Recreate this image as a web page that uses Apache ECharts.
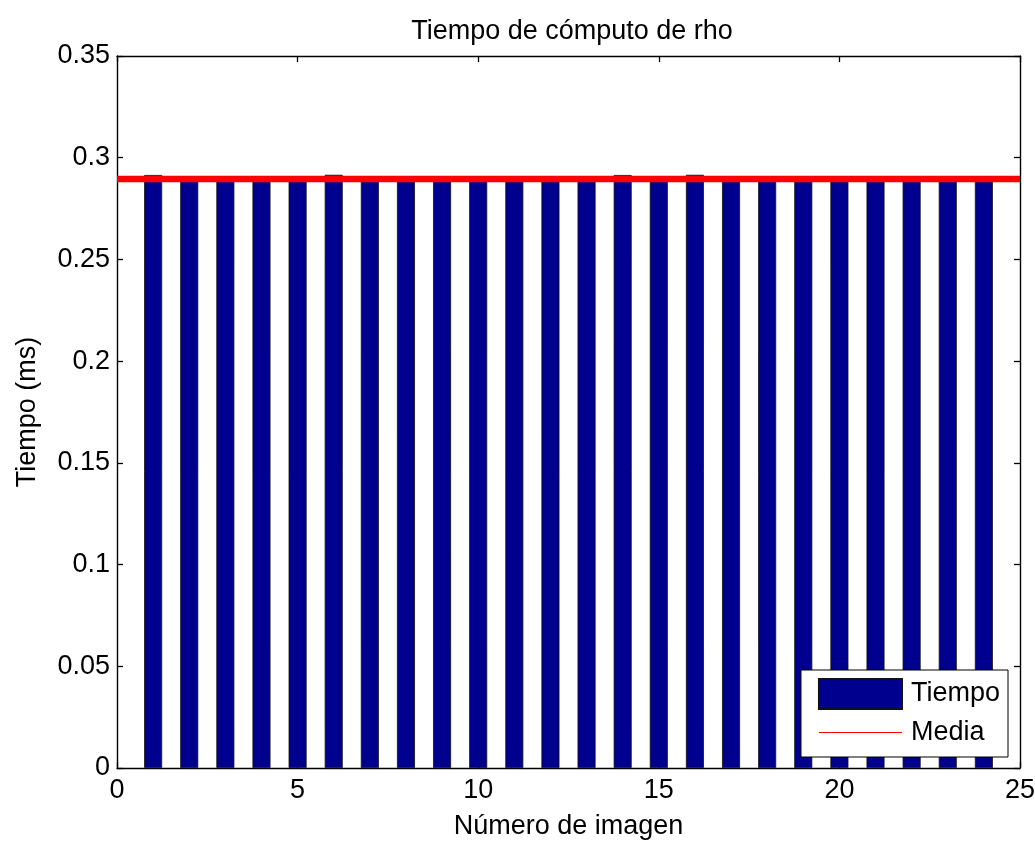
<!DOCTYPE html>
<html>
<head>
<meta charset="utf-8">
<title>Tiempo de cómputo de rho</title>
<script src="https://cdn.jsdelivr.net/npm/echarts@6/dist/echarts.min.js"></script>
<style>
  html, body { margin: 0; padding: 0; background: #fff; }
  #chart { width: 1035px; height: 841px; }
</style>
</head>
<body>
<div id="chart"></div>
<script>
// Image numbers (1..24) and compute time of rho per image, in ms
var imageNumbers = [1, 2, 3, 4, 5, 6, 7, 8, 9, 10, 11, 12,
                    13, 14, 15, 16, 17, 18, 19, 20, 21, 22, 23, 24];
var times = [0.2915, 0.2893, 0.2891, 0.2892, 0.2893, 0.2916, 0.2892, 0.2891,
             0.2893, 0.2892, 0.2891, 0.2893, 0.2892, 0.2915, 0.2892, 0.2916,
             0.2891, 0.2893, 0.2892, 0.2891, 0.2892, 0.2893, 0.2891, 0.2892];
var xTicks = [0, 5, 10, 15, 20, 25];
var yTicks = [0, 0.05, 0.1, 0.15, 0.2, 0.25, 0.3, 0.35];

var mean = times.reduce(function (a, b) { return a + b; }, 0) / times.length;

var FONT = 'Liberation Sans';
var FS = 27;

var chart = echarts.init(document.getElementById('chart'), null, { renderer: 'canvas' });

var tickStyle = { show: true, inside: true, length: 6, lineStyle: { color: '#000', width: 1.3 } };
var lineStyle = { color: '#000', width: 1.4 };

chart.setOption({
  backgroundColor: '#fff',
  animation: false,
  textStyle: { fontFamily: FONT, color: '#000' },
  title: {
    text: 'Tiempo de cómputo de rho',
    left: 567,
    textAlign: 'center',
    top: 13,
    textStyle: { fontFamily: FONT, fontSize: FS, fontWeight: 'normal', color: '#000' }
  },
  grid: { left: 117, right: 15, top: 56, bottom: 73, containLabel: false, outerBoundsMode: 'none' },
  legend: {
    orient: 'vertical',
    right: 27,
    bottom: 84,
    backgroundColor: '#fff',
    borderColor: '#000',
    borderWidth: 1,
    padding: [8, 8, 11, 17],
    itemWidth: 83,
    itemHeight: 30,
    itemGap: 9,
    textStyle: { fontFamily: FONT, fontSize: FS, color: '#000', padding: [0, 0, 0, 4] },
    data: [
      { name: 'Tiempo', icon: 'rect' },
      { name: 'Media', lineStyle: { width: 1.2 }, itemStyle: { opacity: 0 } }
    ]
  },
  xAxis: [
    {
      type: 'value', min: 0, max: 25, interval: 5,
      name: 'Número de imagen', nameLocation: 'middle', nameGap: 45,
      nameTextStyle: { fontFamily: FONT, fontSize: FS, color: '#000' },
      axisLine: { show: true, onZero: false, lineStyle: lineStyle },
      axisTick: tickStyle,
      axisLabel: { fontFamily: FONT, fontSize: FS, color: '#000', margin: 9,
                   customValues: xTicks },
      splitLine: { show: false }
    },
    {
      type: 'value', min: 0, max: 25, interval: 5, position: 'top',
      axisLine: { show: true, onZero: false, lineStyle: lineStyle },
      axisTick: tickStyle,
      axisLabel: { show: false },
      splitLine: { show: false }
    }
  ],
  yAxis: [
    {
      type: 'value', min: 0, max: 0.35, interval: 0.05,
      name: 'Tiempo (ms)', nameLocation: 'middle', nameGap: 76,
      nameTextStyle: { fontFamily: FONT, fontSize: FS, color: '#000' },
      axisLine: { show: true, onZero: false, lineStyle: lineStyle },
      axisTick: tickStyle,
      axisLabel: { fontFamily: FONT, fontSize: FS, color: '#000', margin: 7,
                   customValues: yTicks,
                   formatter: function (v) { return String(+v.toFixed(2)); } },
      splitLine: { show: false }
    },
    {
      type: 'value', min: 0, max: 0.35, interval: 0.05, position: 'right',
      axisLine: { show: true, onZero: false, lineStyle: lineStyle },
      axisTick: tickStyle,
      axisLabel: { show: false },
      splitLine: { show: false }
    }
  ],
  series: [
    {
      name: 'Tiempo',
      type: 'bar',
      xAxisIndex: 0, yAxisIndex: 0,
      barWidth: 18,
      itemStyle: { color: '#00008f', borderColor: '#111', borderWidth: 0.8 },
      data: imageNumbers.map(function (n, i) { return [n, times[i]]; }),
      z: 2
    },
    {
      name: 'Media',
      type: 'line',
      xAxisIndex: 0, yAxisIndex: 0,
      symbol: 'none',
      lineStyle: { color: '#ff0000', width: 6.5 },
      itemStyle: { color: '#ff0000' },
      data: [[0, mean], [25, mean]],
      z: 3
    }
  ]
});
</script>
</body>
</html>
